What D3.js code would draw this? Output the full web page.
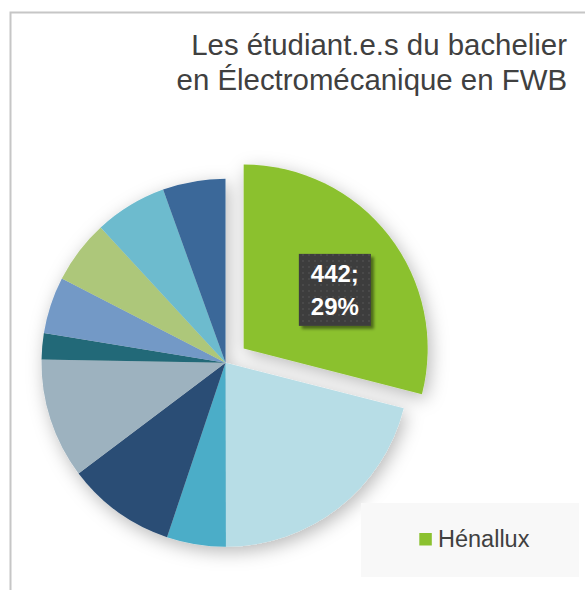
<!DOCTYPE html>
<html>
<head>
<meta charset="utf-8">
<script src="https://cdn.jsdelivr.net/npm/d3@7"></script>
<style>
  html, body { margin: 0; padding: 0; background: #ffffff; }
  svg { display: block; }
  text { font-family: "Liberation Sans", Arial, Helvetica, sans-serif; }
</style>
</head>
<body>
<div id="chart"></div>
<script>
// ---- data ----
const titleLines = ["Les étudiant.e.s du bachelier", "en Électromécanique en FWB"];
const categories = ["Hénallux", "Établissement 2", "Établissement 3", "Établissement 4", "Établissement 5",
                    "Établissement 6", "Établissement 7", "Établissement 8", "Établissement 9", "Établissement 10"];
const values = [442, 320, 79, 146, 161, 35, 76, 85, 97, 84];
const colors = ["#8bc12f", "#b7dde6", "#4badc8", "#2b4d74", "#9db2bf",
                "#246978", "#7399c6", "#adc77a", "#6dbbce", "#3a6899"];
const legendItems = ["Hénallux"];
const explodedIndex = 0;

// ---- layout ----
const W = 585, H = 590;
const cx = 225.5, cy = 362.7, R = 184, explode = 23;

const svg = d3.select("#chart").append("svg").attr("width", W).attr("height", H);
const defs = svg.append("defs");

const f = defs.append("filter").attr("id", "shadow")
  .attr("x", "-30%").attr("y", "-30%").attr("width", "160%").attr("height", "160%");
f.append("feDropShadow").attr("dx", 3).attr("dy", 5).attr("stdDeviation", 9)
  .attr("flood-color", "#000").attr("flood-opacity", 0.28);

const lf = defs.append("filter").attr("id", "lblshadow")
  .attr("x", "-20%").attr("y", "-20%").attr("width", "150%").attr("height", "150%");
lf.append("feDropShadow").attr("dx", 3).attr("dy", 3).attr("stdDeviation", 1.5)
  .attr("flood-color", "#000").attr("flood-opacity", 0.45);

const pat = defs.append("pattern").attr("id", "dots").attr("patternUnits", "userSpaceOnUse")
  .attr("width", 6).attr("height", 6);
pat.append("rect").attr("width", 6).attr("height", 6).attr("fill", "#3d3d3d");
pat.append("circle").attr("cx", 3).attr("cy", 3).attr("r", 1).attr("fill", "#4c4c4c");

// frame
svg.append("path")
  .attr("d", d3.line()([[10.5, H], [10.5, 12.5], [W, 12.5]]))
  .attr("fill", "none").attr("stroke", "#c6c6c6").attr("stroke-width", 2);

// title
const title = svg.append("text").attr("text-anchor", "end").attr("fill", "#404040")
  .style("font-size", "29.4px");
titleLines.forEach((t, i) => {
  title.append("tspan").attr("x", 567).attr("y", 55 + i * 35).text(t);
});

// pie
const pie = d3.pie().sort(null).value(d => d).startAngle(0).endAngle(2 * Math.PI);
const arcs = pie(values);
const arc = d3.arc().innerRadius(0).outerRadius(R);

function offsetOf(d, i) {
  if (i !== explodedIndex) return [0, 0];
  const a = (d.startAngle + d.endAngle) / 2;
  return [explode * Math.sin(a), -explode * Math.cos(a)];
}

const g = svg.append("g").attr("transform", `translate(${cx},${cy})`)
  .attr("filter", "url(#shadow)");
g.selectAll("path").data(arcs).join("path")
  .attr("d", arc)
  .attr("fill", (d, i) => colors[i])
  .attr("transform", (d, i) => { const o = offsetOf(d, i); return `translate(${o[0]},${o[1]})`; });

// data label for Hénallux
const total = d3.sum(values);
const d0 = arcs[explodedIndex];
const o0 = offsetOf(d0, explodedIndex);
const labelArc = d3.arc().innerRadius(R * 0.6).outerRadius(R * 0.6);
const c0 = labelArc.centroid(d0);
const lx = cx + o0[0] + c0[0] + 4, ly = cy + o0[1] + c0[1] + 9;
const bw = 72, bh = 72;
const lg = svg.append("g");
lg.append("rect").attr("x", lx - bw / 2).attr("y", ly - bh / 2).attr("width", bw).attr("height", bh)
  .attr("fill", "url(#dots)").attr("filter", "url(#lblshadow)");
const lt = lg.append("text").attr("text-anchor", "middle").attr("fill", "#ffffff")
  .style("font-size", "24px").style("font-weight", "bold");
lt.append("tspan").attr("x", lx).attr("y", ly - 8).text(values[explodedIndex] + ";");
lt.append("tspan").attr("x", lx).attr("y", ly + 25)
  .text(Math.round(values[explodedIndex] / total * 100) + "%");

// legend
const leg = svg.append("g");
leg.append("rect").attr("x", 361).attr("y", 503).attr("width", 218).attr("height", 74).attr("fill", "#f8f8f8");
legendItems.forEach((name, i) => {
  const idx = categories.indexOf(name);
  leg.append("rect").attr("x", 419.3).attr("y", 533 + i * 30).attr("width", 12.5).attr("height", 12.5)
    .attr("fill", colors[idx]);
  leg.append("text").attr("x", 438).attr("y", 547.3 + i * 30).attr("fill", "#404040")
    .style("font-size", "23.5px").text(name);
});
</script>
</body>
</html>
